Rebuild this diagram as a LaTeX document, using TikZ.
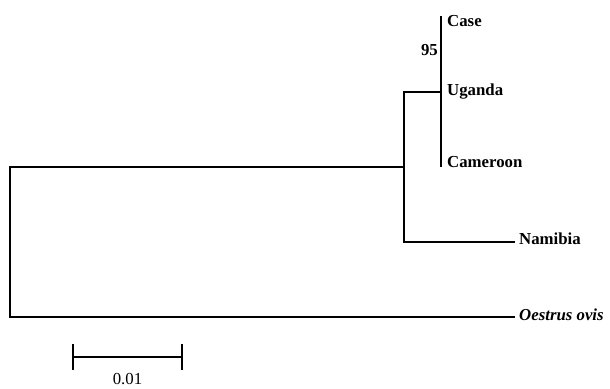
\documentclass[tikz,border=0pt]{standalone}
\usepackage{fontspec}
\setmainfont{Liberation Serif}
\usepackage{tikz}

\begin{document}
\begin{tikzpicture}[x=1pt, y=-1pt,
  branch/.style={draw=black, line width=2.2pt, line join=miter},
  %
  leaf/.style={inner sep=0pt, anchor=base west,
    font=\fontsize{16.8}{18}\selectfont\bfseries},
  %
  support/.style={inner sep=0pt, anchor=base east,
    font=\fontsize{16.8}{18}\selectfont\bfseries},
  %
  scalebar/.style={draw=black, line width=1.9pt},
  %
  barlabel/.style={inner sep=0pt, anchor=base,
    font=\fontsize{16.8}{18}\selectfont}
  ]

  \useasboundingbox (0,0) rectangle (610,388);

  % internal nodes of the tree
  \coordinate (root) at (10,242);
  \coordinate (inner) at (404,167);
  \coordinate (clade) at (441,92);

  % tips
  \coordinate (case) at (441,16);
  \coordinate (uganda) at (441,92);
  \coordinate (cameroon) at (441,167);
  \coordinate (namibia) at (515,242);
  \coordinate (oestrus) at (515,317);

  \begin{scope}
    \draw [branch] (inner) -| (root) |- (oestrus);
    \draw [branch] (clade) -| (inner) |- (namibia);
    \draw [branch] (case) -- (cameroon);
  \end{scope}

  \begin{scope}
    \node [leaf] (caseL) at ([xshift=6pt, yshift=-10pt]case) {Case};
    \node [leaf] (ugandaL) at ([xshift=6pt, yshift=-3pt]uganda) {Uganda};
    \node [leaf] (cameroonL) at ([xshift=6pt]cameroon) {Cameroon};
    \node [leaf] (namibiaL) at ([xshift=4pt, yshift=-2pt]namibia) {Namibia};
    \node [leaf] (oestrusL) at ([xshift=4pt, yshift=-3pt]oestrus)
      {\itshape Oestrus ovis};
    \node [support] (boot) at ([xshift=-3pt, yshift=-39pt]case) {95};
  \end{scope}

  % scale bar
  \coordinate (barL) at (73,357);
  \coordinate (barR) at (182,357);
  \coordinate (barM) at (127.5,357);
  \draw [scalebar] (barL) -- (barR);
  \draw [scalebar] ([yshift=13pt]barL) -- ([yshift=-13pt]barL);
  \draw [scalebar] ([yshift=13pt]barR) -- ([yshift=-13pt]barR);
  \node [barlabel] (barT) at ([yshift=-27.5pt]barM) {0.01};

\end{tikzpicture}
\end{document}
